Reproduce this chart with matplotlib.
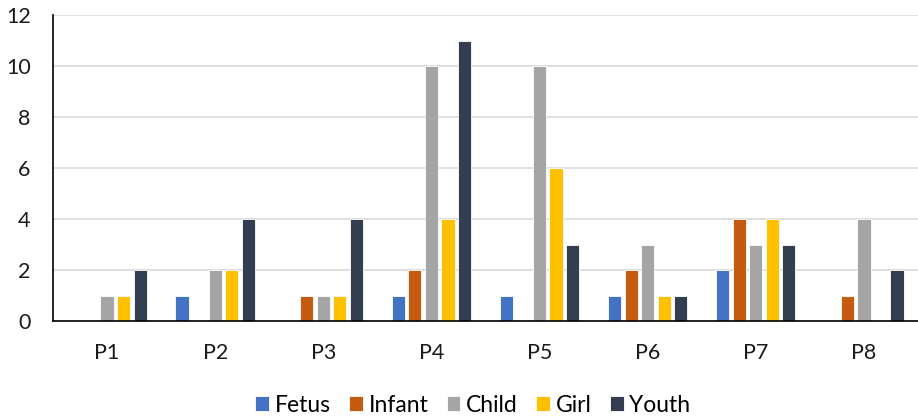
import matplotlib
matplotlib.use("Agg")
import matplotlib.pyplot as plt
import numpy as np

plt.rcParams['font.family'] = ['Lato', 'DejaVu Sans']

categories = ["P1", "P2", "P3", "P4", "P5", "P6", "P7", "P8"]
series_names = ["Fetus", "Infant", "Child", "Girl", "Youth"]
fetus  = [0, 1, 0, 1, 1, 1, 2, 0]
infant = [0, 0, 1, 2, 0, 2, 4, 1]
child  = [1, 2, 1, 10, 10, 3, 3, 4]
girl   = [1, 2, 1, 4, 6, 1, 4, 0]
youth  = [2, 4, 4, 11, 3, 1, 3, 2]
colors = ["#4472C4", "#C55A11", "#A5A5A5", "#FFC000", "#333F50"]
y_ticks = [0, 2, 4, 6, 8, 10, 12]

fig = plt.figure(figsize=(9.18, 4.18), dpi=100)
ax = fig.add_axes([0.0577, 0.232, 0.9423, 0.732])

x = np.arange(len(categories))
pitch = 0.153
width = 0.122
for i, (name, vals, c) in enumerate(zip(series_names, [fetus, infant, child, girl, youth], colors)):
    ax.bar(x + (i - 2) * pitch, vals, width, color=c, label=name,
           edgecolor="white", linewidth=0.6, zorder=3)

ax.set_xlim(-0.5, len(categories) - 0.5)
ax.set_ylim(0, 12)
ax.set_yticks(y_ticks)
ax.set_xticks(x)
ax.set_xticklabels(categories)
ax.grid(axis="y", color="#D9D9D9", linewidth=1.2, zorder=0)
ax.tick_params(axis="both", length=0, labelsize=15.5, colors="#1a1a1a")
ax.tick_params(axis="x", pad=16)
ax.tick_params(axis="y", pad=16)
for s in ["top", "right"]:
    ax.spines[s].set_visible(False)
for s in ["left", "bottom"]:
    ax.spines[s].set_color("black")
    ax.spines[s].set_linewidth(1.2)
    ax.spines[s].set_zorder(4)

fig.legend(loc="center", bbox_to_anchor=(0.515, 0.031), ncol=5, frameon=False,
           fontsize=16.5, handlelength=0.6, handleheight=0.6, handletextpad=0.25,
           columnspacing=0.8)

fig.savefig("out.png", dpi=100)
